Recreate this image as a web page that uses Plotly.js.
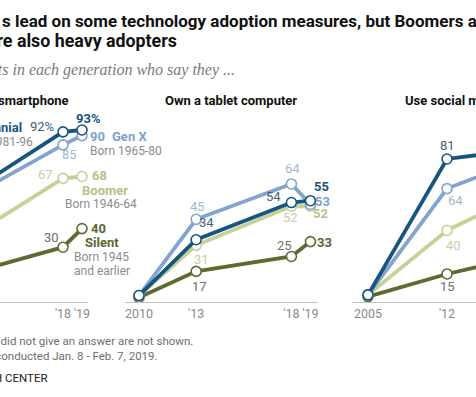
<!DOCTYPE html>
<html>
<head>
<meta charset="utf-8">
<script src="https://cdn.plot.ly/plotly-3.0.1.min.js"></script>
<style>html,body{margin:0;padding:0;background:#fff;overflow:hidden}#chart{width:476px;height:397px}</style>
</head>
<body>
<div id="chart"></div>
<script>
// ---- data ----
const generations = ["Millennial", "Gen X", "Boomer", "Silent"];
const births = ["Born 1981-96", "Born 1965-80", "Born 1946-64", "Born 1945"];

const phoneYears = [2011, 2018, 2019];
const phoneMillennial = [46, 92, 93];
const phoneGenX = [45, 85, 90];
const phoneBoomer = [22, 67, 68];
const phoneSilent = [10, 30, 40];

const tabletYears = [2010, 2013, 2018, 2019];
const tabletMillennial = [4, 34, 54, 55];
const tabletGenX = [4, 45, 64, 53];
const tabletBoomer = [4, 31, 52, 52];
const tabletSilent = [3, 17, 25, 33];

const socialYears = [2005, 2012, 2018, 2019];
const socialMillennial = [3, 81, 86, 86];
const socialGenX = [3, 64, 79, 76];
const socialBoomer = [3, 40, 59, 59];
const socialSilent = [2, 15, 24, 28];

const phoneTicks = [2018, 2019], phoneTickText = ["'18", "'19"];
const tabletTicks = [2010, 2013, 2018, 2019], tabletTickText = ["2010", "'13", "'18", "'19"];
const socialTicks = [2005, 2012, 2018, 2019], socialTickText = ["2005", "'12", "'18", "'19"];

// ---- styling ----
const W = 476, H = 397;
const px = x => x / W, py = y => 1 - y / H;
const lineCol = {"Millennial": "#175581", "Gen X": "#82a4cf", "Boomer": "#c5d197", "Silent": "#5d6b32"};
const boldCol = {"Millennial": "#175581", "Gen X": "#7da1cc", "Boomer": "#b6c287", "Silent": "#5a6732"};
const softCol = {"Millennial": "#3f5f7c", "Gen X": "#a3b8cf", "Boomer": "#c9cdaa", "Silent": "#6f705f"};
const FONT = "Roboto, 'Liberation Sans', sans-serif";

const panels = [
  {years: phoneYears, series: [phoneSilent, phoneBoomer, phoneGenX, phoneMillennial], xa: "x", ya: "y"},
  {years: tabletYears, series: [tabletSilent, tabletBoomer, tabletGenX, tabletMillennial], xa: "x2", ya: "y2"},
  {years: socialYears, series: [socialSilent, socialBoomer, socialGenX, socialMillennial], xa: "x3", ya: "y3"}
];
const order = ["Silent", "Boomer", "Gen X", "Millennial"];
const traces = [];
panels.forEach(p => {
  p.series.forEach((vals, i) => {
    const g = order[i];
    traces.push({
      type: "scatter", mode: "lines+markers", x: p.years, y: vals, xaxis: p.xa, yaxis: p.ya,
      line: {color: lineCol[g], width: 3.8},
      marker: {size: 10, color: "#ffffff", line: {color: lineCol[g], width: 1.6}},
      hoverinfo: "skip", showlegend: false
    });
  });
});

// helper for labels tied to data points
function vlab(xref, yref, x, y, g, bold, xanchor, xshift, yshift, suffix) {
  return {xref: xref, yref: yref, x: x, y: y, xanchor: xanchor, yanchor: "middle",
    xshift: xshift, yshift: yshift, showarrow: false,
    text: bold ? "<b>" + y + (suffix || "") + "</b>" : String(y) + (suffix || ""),
    font: {family: FONT, size: 13, color: bold ? boldCol[g] : softCol[g]}};
}
function plab(x, y, text, color, xanchor, opts) {
  opts = opts || {};
  return {xref: "paper", yref: "paper", x: px(x), y: py(y), xanchor: xanchor, yanchor: "middle",
    showarrow: false, text: text,
    font: {family: opts.family || FONT, size: opts.size || 12, color: color, style: opts.style || "normal",
      weight: opts.weight || "normal"}};
}

const ann = [
  // titles
  plab(0, 21, "<b>s lead on some technology adoption measures, but Boomers and Gen Xers</b>", "#111", "left", {size: 17}),
  plab(179, 40, "<b>are also heavy adopters</b>", "#111", "right", {size: 17.8}),
  plab(237, 70, "% of U.S. adults in each generation who say they ...", "#7a7a7a", "right",
    {family: "'Liberation Serif', serif", size: 16, style: "italic"}),
  // panel titles
  plab(71, 100, "<b>Have a smartphone</b>", "#111", "right", {size: 13}),
  plab(231, 100, "<b>Own a tablet computer</b>", "#111", "center", {size: 13}),
  plab(403, 100, "<b>Use social media</b>", "#111", "left", {size: 13}),

  // panel 1 value labels
  vlab("x", "y", 2019, phoneMillennial[2], "Millennial", true, "center", 6, 12, "%"),
  vlab("x", "y", 2018, phoneMillennial[1], "Millennial", false, "right", -7, 5, "%"),
  vlab("x", "y", 2019, phoneGenX[2], "Gen X", true, "left", 6, -1),
  vlab("x", "y", 2018, phoneGenX[1], "Gen X", false, "center", 6, -10),
  vlab("x", "y", 2018, phoneBoomer[1], "Boomer", false, "right", -8, 4),
  vlab("x", "y", 2019, phoneBoomer[2], "Boomer", true, "left", 8, 1),
  vlab("x", "y", 2018, phoneSilent[1], "Silent", false, "right", -2, 10),
  vlab("x", "y", 2019, phoneSilent[2], "Silent", true, "left", 7, 0),
  // generation names
  plab(24, 127, "<b>" + generations[0] + "</b>", boldCol["Millennial"], "right", {size: 13}),
  plab(35, 142, births[0], "#8c8c8c", "right"),
  plab(110, 137, "<b>" + generations[1] + "</b>", boldCol["Gen X"], "left", {size: 13}),
  plab(88, 151, births[1], "#8c8c8c", "left"),
  plab(80, 190, "<b>" + generations[2] + "</b>", boldCol["Boomer"], "left", {size: 13}),
  plab(63, 204, births[2], "#8c8c8c", "left"),
  plab(83, 243, "<b>" + generations[3] + "</b>", boldCol["Silent"], "left", {size: 13}),
  plab(72, 257, births[3], "#8c8c8c", "left"),
  plab(72, 271, "and earlier", "#8c8c8c", "left"),

  // panel 2 value labels
  vlab("x2", "y2", 2013, tabletGenX[1], "Gen X", false, "center", 1, 13),
  vlab("x2", "y2", 2013, tabletMillennial[1], "Millennial", false, "center", 10, 17),
  vlab("x2", "y2", 2013, tabletBoomer[1], "Boomer", false, "center", 5, -14),
  vlab("x2", "y2", 2013, tabletSilent[1], "Silent", false, "center", 3, -15),
  vlab("x2", "y2", 2018, tabletGenX[2], "Gen X", false, "center", 1, 15),
  vlab("x2", "y2", 2018, tabletMillennial[2], "Millennial", false, "right", -8, 6),
  vlab("x2", "y2", 2018, tabletBoomer[2], "Boomer", false, "center", -1, -11),
  vlab("x2", "y2", 2018, tabletSilent[2], "Silent", false, "center", -7, 11),
  vlab("x2", "y2", 2019, tabletMillennial[3], "Millennial", true, "left", 2, 14),
  vlab("x2", "y2", 2019, tabletGenX[3], "Gen X", true, "left", 3, 3),
  vlab("x2", "y2", 2019, tabletBoomer[3], "Boomer", true, "center", 10, -7),
  vlab("x2", "y2", 2019, tabletSilent[3], "Silent", true, "left", 5, -1),

  // panel 3 value labels
  vlab("x3", "y3", 2012, socialMillennial[1], "Millennial", false, "center", 0, 13),
  vlab("x3", "y3", 2012, socialGenX[1], "Gen X", false, "center", 8, -12),
  vlab("x3", "y3", 2012, socialBoomer[1], "Boomer", false, "center", 6, -15),
  vlab("x3", "y3", 2012, socialSilent[1], "Silent", false, "center", 0, -13),

  // footer
  plab(195, 341, "Note: Respondents who did not give an answer are not shown.", "#6e6e6e", "right", {size: 11.5}),
  plab(160, 356, "Source: Survey conducted Jan. 8 - Feb. 7, 2019.", "#6e6e6e", "right", {size: 11.5}),
  plab(50, 378, "PEW RESEARCH CENTER", "#222", "right", {size: 11.5})
];

const yDom = [py(302), py(90)];
function xaxis(d0, d1, r0, r1, tv, tt) {
  return {domain: [px(d0), px(d1)], range: [r0, r1], tickvals: tv, ticktext: tt, tickangle: 0,
    showline: true, linecolor: "#c4c4c4", linewidth: 1, showgrid: false, zeroline: false, ticks: "",
    tickfont: {family: FONT, size: 12.5, color: "#8a8a8a"}, fixedrange: true};
}
function yaxis(r0, r1, anchor) {
  return {domain: yDom, range: [r0, r1], visible: false, showgrid: false, zeroline: false, anchor: anchor, fixedrange: true};
}

const layout = {
  width: W, height: H, margin: {l: 0, r: 0, t: 0, b: 0}, paper_bgcolor: "#fff", plot_bgcolor: "rgba(0,0,0,0)",
  showlegend: false,
  xaxis: xaxis(0, 88, 2014.684, 2019.316, phoneTicks, phoneTickText),
  yaxis: yaxis(0.54, 114.5, "x"),
  xaxis2: Object.assign(xaxis(125, 318, 2009.265, 2019.396, tabletTicks, tabletTickText), {anchor: "y2"}),
  yaxis2: yaxis(0.54, 114.5, "x2"),
  xaxis3: Object.assign(xaxis(352, 476, 2003.583, 2014.566, socialTicks, socialTickText), {anchor: "y3"}),
  yaxis3: yaxis(-1.09, 120.6, "x3"),
  annotations: ann
};

Plotly.newPlot("chart", traces, layout, {staticPlot: true, displayModeBar: false});
</script>
</body>
</html>
